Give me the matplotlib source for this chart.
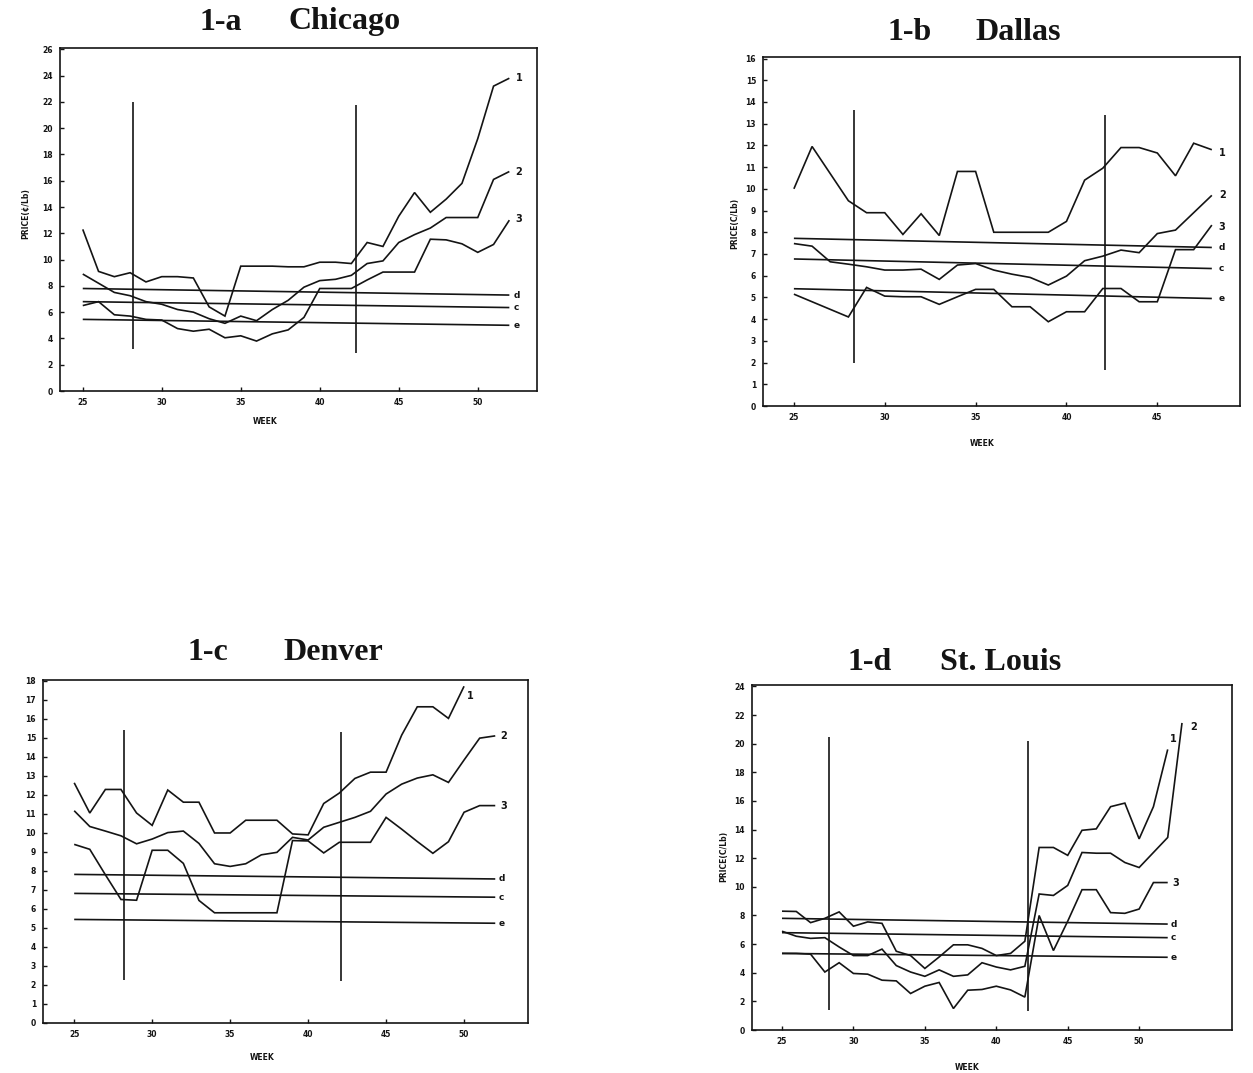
import matplotlib
matplotlib.use("Agg")
import matplotlib.pyplot as plt

W, H = 1253, 1073
INK = "#141414"

# ---------------- 1-a Chicago ----------------
chi_weeks = list(range(25, 53))
chi_1 = [12.3, 9.1, 8.7, 9.0, 8.3, 8.7, 8.7, 8.6, 6.4, 5.7, 9.5, 9.5, 9.5, 9.45,
         9.45, 9.8, 9.8, 9.7, 11.3, 11.0, 13.3, 15.1, 13.6, 14.6, 15.8, 19.2, 23.2, 23.8]
chi_2 = [8.9, 8.2, 7.5, 7.25, 6.8, 6.6, 6.2, 6.0, 5.5, 5.15, 5.7, 5.35, 6.2, 6.9,
         7.9, 8.4, 8.5, 8.8, 9.7, 9.9, 11.3, 11.9, 12.4, 13.2, 13.2, 13.2, 16.1, 16.7]
chi_3 = [6.5, 6.8, 5.8, 5.7, 5.45, 5.4, 4.75, 4.55, 4.7, 4.05, 4.2, 3.8, 4.35, 4.65,
         5.6, 7.8, 7.8, 7.8, 8.45, 9.05, 9.05, 9.05, 11.55, 11.5, 11.2, 10.55, 11.15, 13.0]
chi_lvl_start = [7.8, 6.8, 5.45]
chi_lvl_end = [7.3, 6.35, 5.0]
chi_marks = [28.2, 42.3]
chi_mark_lo = [3.2, 2.9]
chi_mark_hi = [22.0, 21.8]
chi_yticks = list(range(0, 27, 2))
chi_xticks = [25, 30, 35, 40, 45, 50]

# ---------------- 1-b Dallas ----------------
dal_weeks = list(range(25, 49))
dal_1 = [10.0, 11.95, 10.7, 9.45, 8.9, 8.9, 7.9, 8.85, 7.85, 10.8, 10.8, 8.0, 8.0, 8.0,
         8.0, 8.5, 10.4, 10.95, 11.9, 11.9, 11.65, 10.6, 12.1, 11.8]
dal_2 = [7.48, 7.36, 6.64, 6.53, 6.41, 6.26, 6.26, 6.3, 5.83, 6.49, 6.56, 6.26, 6.07,
         5.92, 5.57, 5.98, 6.69, 6.9, 7.18, 7.06, 7.94, 8.1, 8.9, 9.7]
dal_3 = [5.15, 4.8, 4.45, 4.1, 5.46, 5.06, 5.03, 5.03, 4.68, 5.03, 5.37, 5.37, 4.57,
         4.57, 3.88, 4.34, 4.34, 5.41, 5.41, 4.8, 4.8, 7.2, 7.2, 8.33]
dal_lvl_start = [7.72, 6.77, 5.4]
dal_lvl_end = [7.3, 6.33, 4.95]
dal_marks = [28.3, 42.1]
dal_mark_lo = [1.96, 1.65]
dal_mark_hi = [13.65, 13.4]
dal_yticks = list(range(0, 17))
dal_xticks = [25, 30, 35, 40, 45]

# ---------------- 1-c Denver ----------------
den_weeks_1 = list(range(25, 51))
den_weeks = list(range(25, 53))
den_1 = [12.64, 11.05, 12.29, 12.29, 11.05, 10.4, 12.26, 11.62, 11.62, 10.0, 10.0,
         10.67, 10.67, 10.67, 9.95, 9.9, 11.55, 12.1, 12.87, 13.2, 13.2, 15.15, 16.64,
         16.64, 16.03, 17.72]
den_2 = [11.17, 10.34, 10.1, 9.85, 9.43, 9.68, 10.02, 10.1, 9.45, 8.38, 8.24, 8.38,
         8.85, 8.98, 9.77, 9.63, 10.3, 10.56, 10.82, 11.14, 12.05, 12.57, 12.89, 13.06,
         12.66, 13.84, 14.99, 15.11]
den_3 = [9.4, 9.14, 7.8, 6.5, 6.46, 9.09, 9.09, 8.4, 6.45, 5.8, 5.8, 5.8, 5.8, 5.8,
         9.6, 9.58, 8.95, 9.51, 9.51, 9.51, 10.82, 10.2, 9.55, 8.93, 9.54, 11.09, 11.44,
         11.44]
den_lvl_start = [7.82, 6.82, 5.45]
den_lvl_end = [7.58, 6.62, 5.25]
den_marks = [28.2, 42.1]
den_mark_lo = [2.28, 2.2]
den_mark_hi = [15.4, 15.3]
den_yticks = list(range(0, 19))
den_xticks = [25, 30, 35, 40, 45, 50]

# ---------------- 1-d St. Louis ----------------
stl_weeks = list(range(25, 53))
stl_weeks_2 = list(range(25, 54))
stl_1 = [8.3, 8.28, 7.5, 7.8, 8.25, 7.25, 7.55, 7.45, 5.5, 5.2, 4.3, 5.1, 5.95, 5.95,
         5.7, 5.2, 5.35, 6.2, 12.75, 12.75, 12.2, 13.95, 14.05, 15.6, 15.85, 13.35,
         15.6, 19.6]
stl_2 = [6.9, 6.55, 6.4, 6.45, 5.8, 5.2, 5.2, 5.65, 4.5, 4.05, 3.75, 4.2, 3.75, 3.85,
         4.7, 4.4, 4.2, 4.45, 9.5, 9.4, 10.1, 12.4, 12.35, 12.35, 11.7, 11.35, 12.4,
         13.45, 21.45]
stl_3 = [5.35, 5.35, 5.3, 4.05, 4.7, 3.95, 3.9, 3.48, 3.43, 2.55, 3.06, 3.32, 1.5,
         2.78, 2.83, 3.06, 2.8, 2.3, 8.0, 5.55, 7.6, 9.8, 9.8, 8.2, 8.15, 8.45, 10.3, 10.3]
stl_lvl_start = [7.8, 6.8, 5.35]
stl_lvl_end = [7.4, 6.45, 5.08]
stl_marks = [28.3, 42.2]
stl_mark_lo = [1.4, 1.3]
stl_mark_hi = [20.5, 20.2]
stl_yticks = list(range(0, 25, 2))
stl_xticks = [25, 30, 35, 40, 45, 50]

level_names = ["d", "c", "e"]
series_names = ["1", "2", "3"]


def rect(left, top, right, bottom):
    return [left / W, 1 - bottom / H, (right - left) / W, (bottom - top) / H]


def fxy(x, y):
    return x / W, 1 - y / H


def panel(ax, xlim, ylim, xticks, yticks, lines, lvl_weeks, lvl_start, lvl_end,
          marks, mark_lo, mark_hi, line_label_off, lvl_label_dx):
    ax.set_xlim(*xlim)
    ax.set_ylim(*ylim)
    ax.set_xticks(xticks)
    ax.set_yticks(yticks)
    ax.tick_params(direction="in", length=3, width=1.0, labelsize=5.5, pad=5,
                   colors=INK)
    for lab in ax.get_xticklabels() + ax.get_yticklabels():
        lab.set_fontweight("bold")
    for sp in ax.spines.values():
        sp.set_linewidth(1.2)
        sp.set_color(INK)
    kw = dict(color=INK, lw=1.2, solid_joinstyle="miter", solid_capstyle="butt")
    for (wk, vals), name, (dx, dy) in zip(lines, series_names, line_label_off):
        ax.plot(wk, vals, **kw)
        ax.text(wk[-1] + dx, vals[-1] + dy, name, fontsize=7, fontweight="bold",
                ha="left", va="center", color=INK)
    for s, e, name in zip(lvl_start, lvl_end, level_names):
        ax.plot([lvl_weeks[0], lvl_weeks[1]], [s, e], **kw)
        ax.text(lvl_weeks[1] + lvl_label_dx, e, name, fontsize=6.5,
                fontweight="bold", ha="left", va="center", color=INK)
    for w, lo, hi in zip(marks, mark_lo, mark_hi):
        ax.plot([w, w], [lo, hi], **kw)


fig = plt.figure(figsize=(W / 100, H / 100), dpi=100)
fig.patch.set_facecolor("white")

ax_a = fig.add_axes(rect(60, 48, 537, 391))
panel(ax_a, (23.56, 53.75), (0, 26.1), chi_xticks, chi_yticks,
      [(chi_weeks, chi_1), (chi_weeks, chi_2), (chi_weeks, chi_3)],
      (25, 52), chi_lvl_start, chi_lvl_end, chi_marks, chi_mark_lo, chi_mark_hi,
      [(0.4, 0), (0.4, 0), (0.35, 0.1)], 0.25)

ax_b = fig.add_axes(rect(763, 57, 1240, 406))
panel(ax_b, (23.3, 49.55), (0, 16.07), dal_xticks, dal_yticks,
      [(dal_weeks, dal_1), (dal_weeks, dal_2), (dal_weeks, dal_3)],
      (25, 48), dal_lvl_start, dal_lvl_end, dal_marks, dal_mark_lo, dal_mark_hi,
      [(0.4, -0.15), (0.4, 0), (0.35, -0.1)], 0.35)

ax_c = fig.add_axes(rect(43, 680, 528, 1023))
panel(ax_c, (23.0, 54.1), (0, 18.05), den_xticks, den_yticks,
      [(den_weeks_1, den_1), (den_weeks, den_2), (den_weeks, den_3)],
      (25, 52), den_lvl_start, den_lvl_end, den_marks, den_mark_lo, den_mark_hi,
      [(0.2, -0.5), (0.3, 0), (0.3, 0)], 0.2)

ax_d = fig.add_axes(rect(752, 685, 1232, 1030))
panel(ax_d, (22.9, 56.5), (0, 24.1), stl_xticks, stl_yticks,
      [(stl_weeks, stl_1), (stl_weeks_2, stl_2), (stl_weeks, stl_3)],
      (25, 52), stl_lvl_start, stl_lvl_end, stl_marks, stl_mark_lo, stl_mark_hi,
      [(0.15, 0.7), (0.6, -0.25), (0.35, 0)], 0.2)

# axis captions
small = dict(fontsize=5.5, fontweight="bold", color=INK)
fig.text(*fxy(265, 421), "WEEK", ha="center", va="center", **small)
fig.text(*fxy(982, 443), "WEEK", ha="center", va="center", **small)
fig.text(*fxy(262, 1058), "WEEK", ha="center", va="center", **small)
fig.text(*fxy(967, 1067), "WEEK", ha="center", va="center", **small)
fig.text(*fxy(26, 214), "PRICE(\u00a2/Lb)", rotation=90, ha="center", va="center", **small)
fig.text(*fxy(735, 223), "PRICE(C/Lb)", rotation=90, ha="center", va="center", **small)
fig.text(*fxy(724, 856), "PRICE(C/Lb)", rotation=90, ha="center", va="center", **small)

# panel titles
title = dict(fontsize=23, fontweight="bold", family="Liberation Serif",
             ha="left", va="center", color=INK)
for tag, name, x_tag, x_name, y in [("1-a", "Chicago", 200, 288, 22),
                                    ("1-b", "Dallas", 887, 975, 32),
                                    ("1-c", "Denver", 187, 283, 652),
                                    ("1-d", "St. Louis", 848, 940, 662)]:
    fig.text(*fxy(x_tag, y), tag, **title)
    fig.text(*fxy(x_name, y), name, **title)

fig.savefig("out.png", dpi=100, facecolor="white")
